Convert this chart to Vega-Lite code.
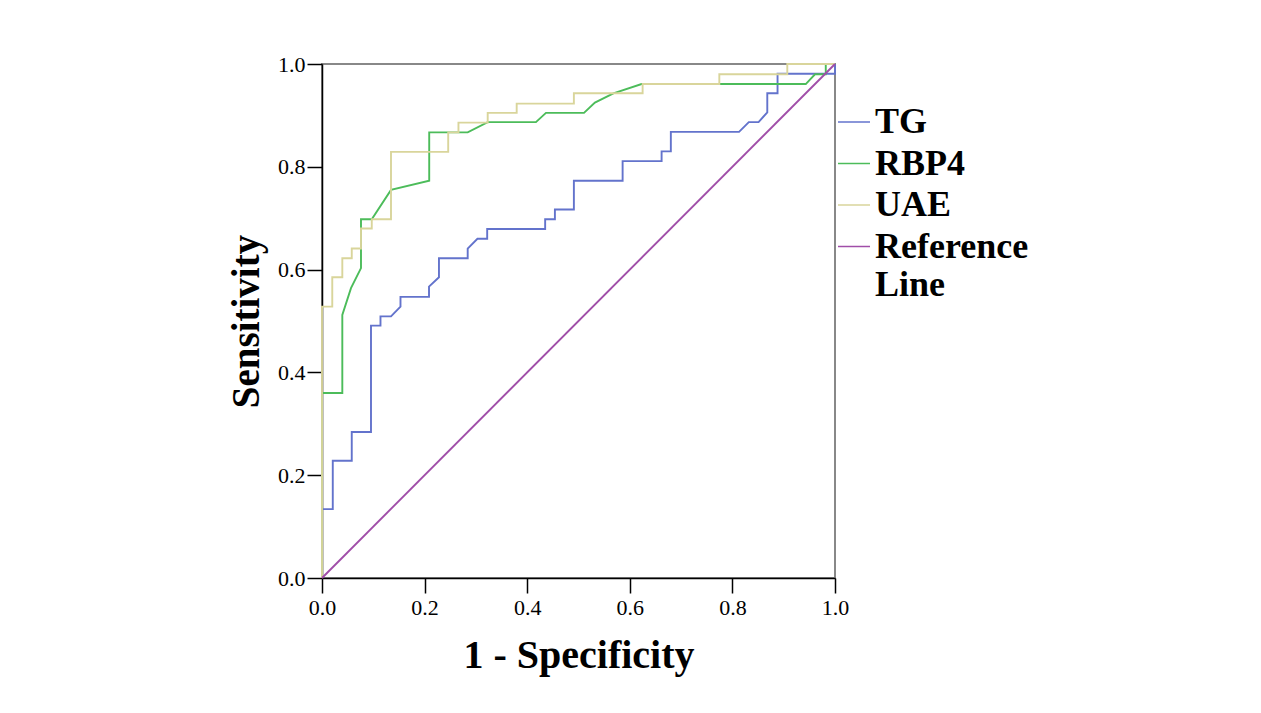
{
  "$schema": "https://vega.github.io/schema/vega-lite/v6.json",
  "width": 513,
  "height": 514,
  "autosize": {"type": "none"},
  "padding": {"left": 322, "top": 64, "right": 426, "bottom": 135},
  "background": "white",
  "config": {"view": {"stroke": "#888888", "strokeWidth": 2}, "font": "Liberation Serif"},
  "data": {"values": [
    {"curve": "TG", "i": 0, "fpr": 0, "tpr": 0},
    {"curve": "TG", "i": 1, "fpr": 0, "tpr": 0.134},
    {"curve": "TG", "i": 2, "fpr": 0.021, "tpr": 0.134},
    {"curve": "TG", "i": 3, "fpr": 0.021, "tpr": 0.228},
    {"curve": "TG", "i": 4, "fpr": 0.058, "tpr": 0.228},
    {"curve": "TG", "i": 5, "fpr": 0.058, "tpr": 0.284},
    {"curve": "TG", "i": 6, "fpr": 0.0955, "tpr": 0.284},
    {"curve": "TG", "i": 7, "fpr": 0.0955, "tpr": 0.491},
    {"curve": "TG", "i": 8, "fpr": 0.114, "tpr": 0.491},
    {"curve": "TG", "i": 9, "fpr": 0.114, "tpr": 0.509},
    {"curve": "TG", "i": 10, "fpr": 0.1345, "tpr": 0.509},
    {"curve": "TG", "i": 11, "fpr": 0.153, "tpr": 0.528},
    {"curve": "TG", "i": 12, "fpr": 0.153, "tpr": 0.547},
    {"curve": "TG", "i": 13, "fpr": 0.2086, "tpr": 0.547},
    {"curve": "TG", "i": 14, "fpr": 0.2086, "tpr": 0.567},
    {"curve": "TG", "i": 15, "fpr": 0.228, "tpr": 0.585},
    {"curve": "TG", "i": 16, "fpr": 0.228, "tpr": 0.622},
    {"curve": "TG", "i": 17, "fpr": 0.284, "tpr": 0.622},
    {"curve": "TG", "i": 18, "fpr": 0.284, "tpr": 0.641},
    {"curve": "TG", "i": 19, "fpr": 0.303, "tpr": 0.66},
    {"curve": "TG", "i": 20, "fpr": 0.322, "tpr": 0.66},
    {"curve": "TG", "i": 21, "fpr": 0.322, "tpr": 0.679},
    {"curve": "TG", "i": 22, "fpr": 0.435, "tpr": 0.679},
    {"curve": "TG", "i": 23, "fpr": 0.435, "tpr": 0.698},
    {"curve": "TG", "i": 24, "fpr": 0.454, "tpr": 0.698},
    {"curve": "TG", "i": 25, "fpr": 0.454, "tpr": 0.717},
    {"curve": "TG", "i": 26, "fpr": 0.491, "tpr": 0.717},
    {"curve": "TG", "i": 27, "fpr": 0.491, "tpr": 0.773},
    {"curve": "TG", "i": 28, "fpr": 0.586, "tpr": 0.773},
    {"curve": "TG", "i": 29, "fpr": 0.586, "tpr": 0.811},
    {"curve": "TG", "i": 30, "fpr": 0.662, "tpr": 0.811},
    {"curve": "TG", "i": 31, "fpr": 0.662, "tpr": 0.83},
    {"curve": "TG", "i": 32, "fpr": 0.68, "tpr": 0.83},
    {"curve": "TG", "i": 33, "fpr": 0.68, "tpr": 0.868},
    {"curve": "TG", "i": 34, "fpr": 0.813, "tpr": 0.868},
    {"curve": "TG", "i": 35, "fpr": 0.832, "tpr": 0.887},
    {"curve": "TG", "i": 36, "fpr": 0.851, "tpr": 0.887},
    {"curve": "TG", "i": 37, "fpr": 0.868, "tpr": 0.906},
    {"curve": "TG", "i": 38, "fpr": 0.868, "tpr": 0.943},
    {"curve": "TG", "i": 39, "fpr": 0.888, "tpr": 0.943},
    {"curve": "TG", "i": 40, "fpr": 0.888, "tpr": 0.981},
    {"curve": "TG", "i": 41, "fpr": 1, "tpr": 0.981},
    {"curve": "TG", "i": 42, "fpr": 1, "tpr": 1},
    {"curve": "RBP4", "i": 0, "fpr": 0, "tpr": 0},
    {"curve": "RBP4", "i": 1, "fpr": 0, "tpr": 0.36},
    {"curve": "RBP4", "i": 2, "fpr": 0.0396, "tpr": 0.36},
    {"curve": "RBP4", "i": 3, "fpr": 0.0396, "tpr": 0.512},
    {"curve": "RBP4", "i": 4, "fpr": 0.0565, "tpr": 0.564},
    {"curve": "RBP4", "i": 5, "fpr": 0.076, "tpr": 0.603},
    {"curve": "RBP4", "i": 6, "fpr": 0.076, "tpr": 0.698},
    {"curve": "RBP4", "i": 7, "fpr": 0.097, "tpr": 0.698},
    {"curve": "RBP4", "i": 8, "fpr": 0.1345, "tpr": 0.755},
    {"curve": "RBP4", "i": 9, "fpr": 0.209, "tpr": 0.773},
    {"curve": "RBP4", "i": 10, "fpr": 0.209, "tpr": 0.867},
    {"curve": "RBP4", "i": 11, "fpr": 0.284, "tpr": 0.867},
    {"curve": "RBP4", "i": 12, "fpr": 0.323, "tpr": 0.887},
    {"curve": "RBP4", "i": 13, "fpr": 0.417, "tpr": 0.887},
    {"curve": "RBP4", "i": 14, "fpr": 0.4366, "tpr": 0.905},
    {"curve": "RBP4", "i": 15, "fpr": 0.5107, "tpr": 0.905},
    {"curve": "RBP4", "i": 16, "fpr": 0.532, "tpr": 0.925},
    {"curve": "RBP4", "i": 17, "fpr": 0.568, "tpr": 0.943},
    {"curve": "RBP4", "i": 18, "fpr": 0.623, "tpr": 0.961},
    {"curve": "RBP4", "i": 19, "fpr": 0.943, "tpr": 0.961},
    {"curve": "RBP4", "i": 20, "fpr": 0.961, "tpr": 0.98},
    {"curve": "RBP4", "i": 21, "fpr": 0.982, "tpr": 0.98},
    {"curve": "RBP4", "i": 22, "fpr": 0.982, "tpr": 1},
    {"curve": "RBP4", "i": 23, "fpr": 1, "tpr": 1},
    {"curve": "UAE", "i": 0, "fpr": 0, "tpr": 0},
    {"curve": "UAE", "i": 1, "fpr": 0, "tpr": 0.528},
    {"curve": "UAE", "i": 2, "fpr": 0.02, "tpr": 0.528},
    {"curve": "UAE", "i": 3, "fpr": 0.02, "tpr": 0.585},
    {"curve": "UAE", "i": 4, "fpr": 0.0396, "tpr": 0.585},
    {"curve": "UAE", "i": 5, "fpr": 0.0396, "tpr": 0.622},
    {"curve": "UAE", "i": 6, "fpr": 0.058, "tpr": 0.622},
    {"curve": "UAE", "i": 7, "fpr": 0.058, "tpr": 0.641},
    {"curve": "UAE", "i": 8, "fpr": 0.076, "tpr": 0.641},
    {"curve": "UAE", "i": 9, "fpr": 0.076, "tpr": 0.68},
    {"curve": "UAE", "i": 10, "fpr": 0.097, "tpr": 0.68},
    {"curve": "UAE", "i": 11, "fpr": 0.097, "tpr": 0.698},
    {"curve": "UAE", "i": 12, "fpr": 0.1345, "tpr": 0.698},
    {"curve": "UAE", "i": 13, "fpr": 0.1345, "tpr": 0.829},
    {"curve": "UAE", "i": 14, "fpr": 0.246, "tpr": 0.829},
    {"curve": "UAE", "i": 15, "fpr": 0.246, "tpr": 0.867},
    {"curve": "UAE", "i": 16, "fpr": 0.266, "tpr": 0.867},
    {"curve": "UAE", "i": 17, "fpr": 0.266, "tpr": 0.886},
    {"curve": "UAE", "i": 18, "fpr": 0.323, "tpr": 0.886},
    {"curve": "UAE", "i": 19, "fpr": 0.323, "tpr": 0.905},
    {"curve": "UAE", "i": 20, "fpr": 0.3795, "tpr": 0.905},
    {"curve": "UAE", "i": 21, "fpr": 0.3795, "tpr": 0.923},
    {"curve": "UAE", "i": 22, "fpr": 0.491, "tpr": 0.923},
    {"curve": "UAE", "i": 23, "fpr": 0.491, "tpr": 0.943},
    {"curve": "UAE", "i": 24, "fpr": 0.625, "tpr": 0.943},
    {"curve": "UAE", "i": 25, "fpr": 0.625, "tpr": 0.961},
    {"curve": "UAE", "i": 26, "fpr": 0.7745, "tpr": 0.961},
    {"curve": "UAE", "i": 27, "fpr": 0.7745, "tpr": 0.98},
    {"curve": "UAE", "i": 28, "fpr": 0.907, "tpr": 0.98},
    {"curve": "UAE", "i": 29, "fpr": 0.907, "tpr": 1},
    {"curve": "UAE", "i": 30, "fpr": 1, "tpr": 1},
    {"curve": "Reference Line", "i": 0, "fpr": 0, "tpr": 0},
    {"curve": "Reference Line", "i": 1, "fpr": 1, "tpr": 1}
  ]},
  "mark": {"type": "line", "strokeWidth": 1.9, "clip": false},
  "encoding": {
    "x": {
      "field": "fpr", "type": "quantitative",
      "scale": {"domain": [0, 1], "nice": false, "zero": false},
      "axis": {
        "title": "1 - Specificity", "values": [0, 0.2, 0.4, 0.6, 0.8, 1], "format": ".1f",
        "grid": false, "tickSize": 15, "tickColor": "#000", "tickWidth": 1.5,
        "domainColor": "#000", "domainWidth": 1.5,
        "labelFont": "Liberation Serif", "labelFontSize": 22, "labelColor": "#000", "labelPadding": 4,
        "labelFlush": false, "labelOverlap": false,
        "titleFont": "Liberation Serif", "titleFontSize": 40, "titleFontWeight": "bold", "titleColor": "#000", "titlePadding": 17
      }
    },
    "y": {
      "field": "tpr", "type": "quantitative",
      "scale": {"domain": [0, 1], "nice": false, "zero": false},
      "axis": {
        "title": "Sensitivity", "values": [0, 0.2, 0.4, 0.6, 0.8, 1], "format": ".1f",
        "grid": false, "tickSize": 15, "tickColor": "#000", "tickWidth": 1.5,
        "domainColor": "#000", "domainWidth": 1.5,
        "labelFont": "Liberation Serif", "labelFontSize": 22, "labelColor": "#000", "labelPadding": 2,
        "labelFlush": false, "labelOverlap": false,
        "titleFont": "Liberation Serif", "titleFontSize": 39, "titleFontWeight": "bold", "titleColor": "#000", "titlePadding": 11
      }
    },
    "color": {
      "field": "curve", "type": "nominal",
      "scale": {"domain": ["TG", "RBP4", "UAE", "Reference Line"], "range": ["#6373cc", "#4cbc5a", "#d9d59b", "#a04ea8"]},
      "legend": {
        "title": null, "orient": "none", "legendX": 514, "legendY": 40, "padding": 0,
        "symbolType": "stroke", "symbolSize": 1024, "symbolStrokeWidth": 1.5,
        "labelFont": "Liberation Serif", "labelFontSize": 36, "labelFontWeight": "bold", "labelColor": "#000",
        "labelOffset": 3, "rowPadding": 5.5, "labelLimit": 400,
        "labelExpr": "datum.label == 'Reference Line' ? ['Reference', 'Line'] : datum.label"
      }
    },
    "order": {"field": "i", "type": "quantitative"}
  }
}
